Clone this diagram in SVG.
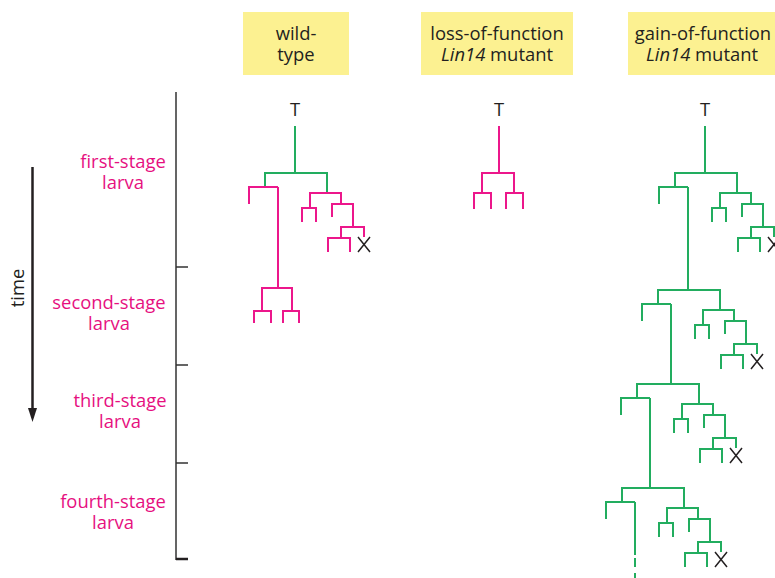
<svg xmlns="http://www.w3.org/2000/svg" xmlns:xlink="http://www.w3.org/1999/xlink" width="775" height="578" viewBox="0 0 775 578">
<style>
  text { font-family: "Open Sans", "Liberation Sans", sans-serif; font-size: 18.4px; }
  .hdr { fill: #fcf191; }
  .ht { fill: #231f20; text-anchor: middle; }
  .stage { fill: #e6107f; text-anchor: middle; }
  .tl { fill: #231f20; text-anchor: middle; }
  .ln { fill: none; stroke-width: 2; stroke-linejoin: miter; stroke-linecap: butt; }
  .g { stroke: #22ad5f; }
  .p { stroke: #ec178b; }
  .x { fill: none; stroke: #231f20; stroke-width: 1.5; }
  .ax { fill: none; stroke: #333333; stroke-width: 1.5; }
</style>
<defs>
  <path id="top" d="M-30,14 V0 H32 V20"/>
  <g id="rest">
    <path d="M-46,31 V14 H-17"/>
    <path d="M15,35 V20 H46 V31"/>
    <path d="M7,49 V35 H21 V49"/>
    <path d="M37,44 V31 H58 V54"/>
    <path d="M46,65 V54 H69 V64"/>
    <path d="M33,79 V65 H55 V79"/>
  </g>
  <path id="xmark" class="x" d="M63,64 L75,79 M75,64 L63,79"/>
</defs>

<!-- headers -->
<g id="hdr-wild">
  <rect class="hdr" x="243" y="12" width="106" height="63"/>
  <text class="ht" x="296" y="39.5">wild-<tspan x="296" dy="21">type</tspan></text>
</g>
<g id="hdr-loss">
  <rect class="hdr" x="421" y="12" width="152" height="63"/>
  <text class="ht" x="497" y="39.5">loss-of-function<tspan x="497" dy="21"><tspan font-style="italic">Lin14</tspan> mutant</tspan></text>
</g>
<g id="hdr-gain">
  <rect class="hdr" x="628" y="12" width="150" height="63"/>
  <text class="ht" x="703" y="39.5">gain-of-function<tspan x="702" dy="21"><tspan font-style="italic">Lin14</tspan> mutant</tspan></text>
</g>

<!-- time axis -->
<g id="axis">
  <path class="ax" d="M176,92 V560 M176,267 H188 M176,365 H188 M176,463 H188"/>
  <path fill="none" stroke="#231f20" stroke-width="2.5" d="M176,559 H188"/>
  <path fill="none" stroke="#231f20" stroke-width="2.5" d="M32.5,167 V409"/>
  <path fill="#231f20" d="M28,408 L37,408 L32.5,422 Z"/>
  <text class="tl" transform="translate(24,288) rotate(-90)">time</text>
</g>

<g id="stage-labels">
  <text class="stage" x="123" y="168">first-stage<tspan x="123" dy="21">larva</tspan></text>
  <text class="stage" x="109" y="308.5">second-stage<tspan x="109" dy="21.5">larva</tspan></text>
  <text class="stage" x="120" y="407">third-stage<tspan x="120" dy="21">larva</tspan></text>
  <text class="stage" x="113" y="508">fourth-stage<tspan x="113" dy="21">larva</tspan></text>
</g>

<!-- wild-type lineage -->
<g id="tree-wild">
  <text class="tl" x="295" y="115.5">T</text>
  <g class="ln g">
    <path d="M295,126 V173"/>
    <use xlink:href="#top" href="#top" transform="translate(295,173)"/>
  </g>
  <g class="ln p">
    <use xlink:href="#rest" href="#rest" transform="translate(295,173)"/>
    <path d="M278,187 V288"/>
    <path d="M262,311 V288 H292 V311"/>
    <path d="M254,323 V311 H271 V323"/>
    <path d="M283,323 V311 H299 V323"/>
  </g>
  <use xlink:href="#xmark" href="#xmark" transform="translate(295,173)"/>
</g>

<!-- loss-of-function lineage -->
<g id="tree-loss">
  <text class="tl" x="499" y="115.5">T</text>
  <g class="ln p">
    <path d="M499,126 V173"/>
    <path d="M482,193 V173 H514 V193"/>
    <path d="M474,209 V193 H491 V209"/>
    <path d="M506,209 V193 H523 V209"/>
  </g>
</g>

<!-- gain-of-function lineage -->
<g id="tree-gain">
  <text class="tl" x="705" y="115.5">T</text>
  <g class="ln g">
    <path d="M705,126 V173"/>
    <g transform="translate(705,173)"><use xlink:href="#top" href="#top"/><use xlink:href="#rest" href="#rest"/></g>
    <path d="M688,187 V290"/>
    <g transform="translate(688,290)"><use xlink:href="#top" href="#top"/><use xlink:href="#rest" href="#rest"/></g>
    <path d="M671,304 V384"/>
    <g transform="translate(667,384)"><use xlink:href="#top" href="#top"/><use xlink:href="#rest" href="#rest"/></g>
    <path d="M650,398 V488"/>
    <g transform="translate(652,488)"><use xlink:href="#top" href="#top"/><use xlink:href="#rest" href="#rest"/></g>
    <path d="M635,502 V555 M635,558 V567 M635,573 V578"/>
  </g>
  <use xlink:href="#xmark" href="#xmark" transform="translate(705,173)"/>
  <use xlink:href="#xmark" href="#xmark" transform="translate(688,290)"/>
  <use xlink:href="#xmark" href="#xmark" transform="translate(667,384)"/>
  <use xlink:href="#xmark" href="#xmark" transform="translate(652,488)"/>
</g>
</svg>
